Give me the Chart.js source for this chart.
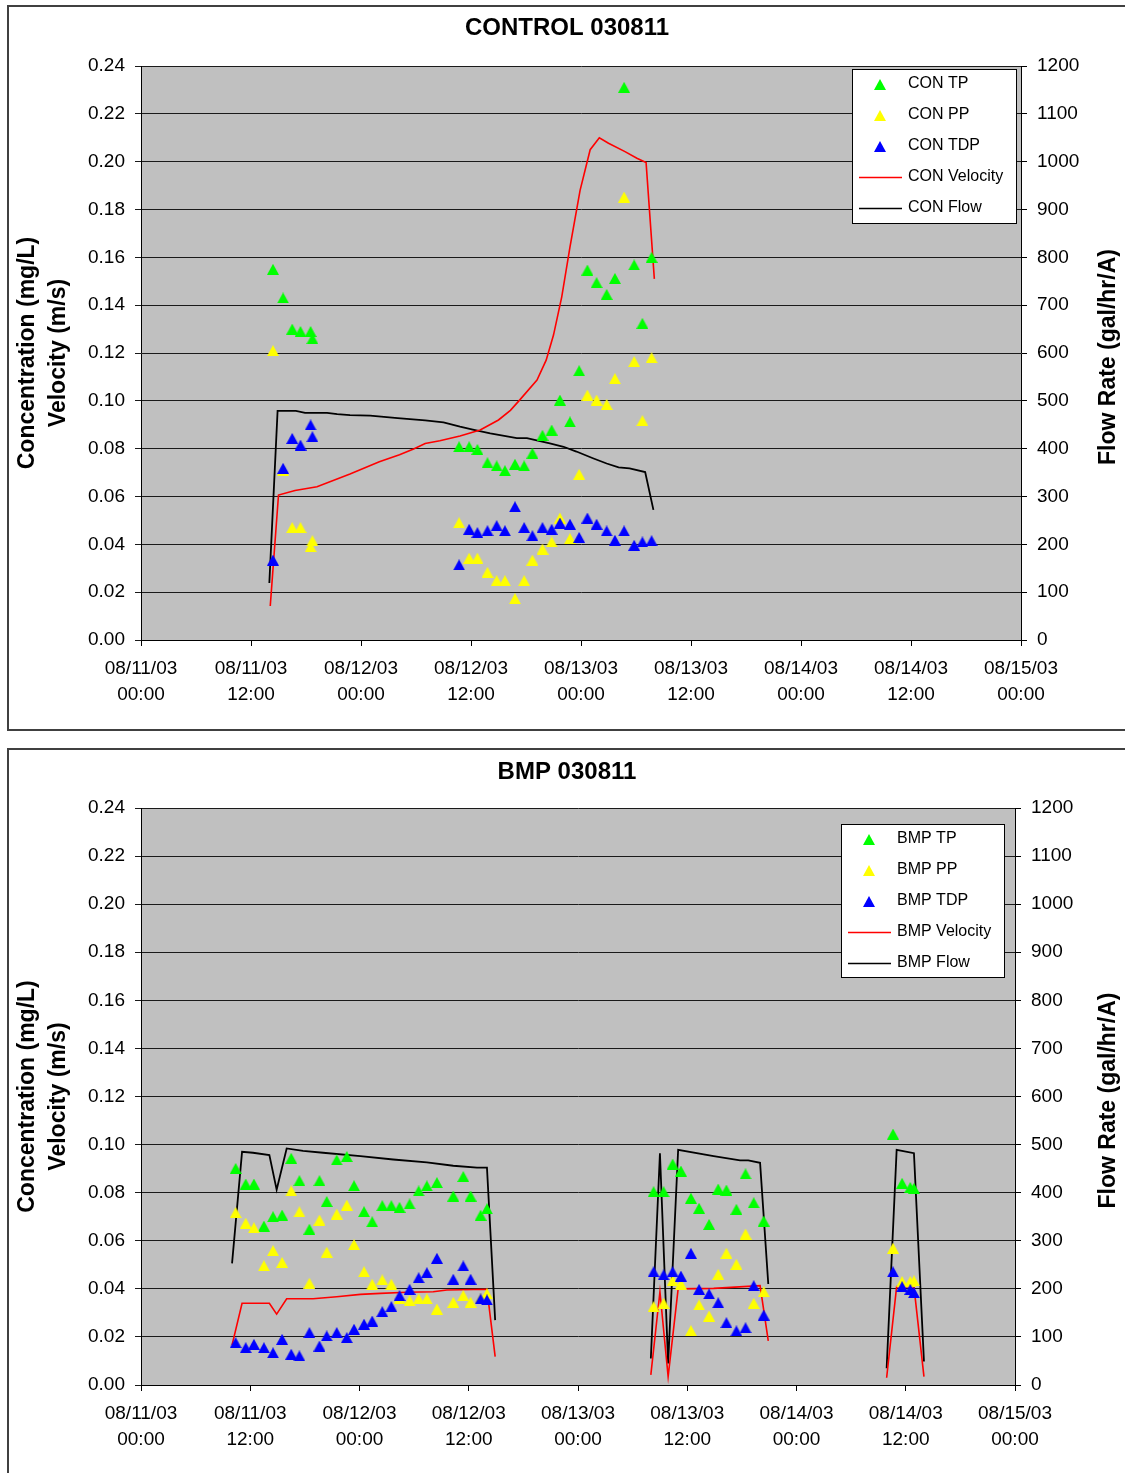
<!DOCTYPE html>
<html>
<head>
<meta charset="utf-8">
<script src="https://cdn.jsdelivr.net/npm/chart.js@4.4.1/dist/chart.umd.min.js"></script>
<style>
  html, body { margin: 0; padding: 0; background: #fff; overflow: hidden; }
  body { width: 1125px; height: 1473px; position: relative; }
  .quadro { position: absolute; left: 7px; width: 1140px; border: 2px solid #404040; box-sizing: border-box; }
  #quadroCon { top: 5px; height: 726px; }
  #quadroBmp { top: 748px; height: 740px; }
  canvas { position: absolute; }
  #chartCon { left: 8px; top: 6px; }
  #chartBmp { left: 8px; top: 749px; }
</style>
</head>
<body>
<div class="quadro" id="quadroCon"></div>
<div class="quadro" id="quadroBmp"></div>
<canvas id="chartCon" width="1117" height="724" style="width:1117px;height:724px"></canvas>
<canvas id="chartBmp" width="1117" height="724" style="width:1117px;height:724px"></canvas>
<script>
// hours since 08/11/03 00:00
const xTickLabels = [
    ['08/11/03', '00:00'], ['08/11/03', '12:00'], ['08/12/03', '00:00'], ['08/12/03', '12:00'],
    ['08/13/03', '00:00'], ['08/13/03', '12:00'], ['08/14/03', '00:00'], ['08/14/03', '12:00'],
    ['08/15/03', '00:00']
];

// ---- CONTROL 030811 ----
const conHours = [14.4, 15.5, 16.5, 17.4, 18.5, 18.7,
    34.7, 35.8, 36.7, 37.8, 38.8, 39.7, 40.8, 41.8, 42.7, 43.8, 44.8, 45.7, 46.8, 47.8,
    48.7, 49.7, 50.8, 51.7, 52.7, 53.8, 54.7, 55.7];
const conTP = [0.155, 0.143, 0.130, 0.129, 0.129, 0.126,
    0.0808, 0.0808, 0.0797, 0.0741, 0.0728, 0.0708, 0.0735, 0.0728, 0.0781, 0.0856, 0.0878, 0.1003, 0.0912, 0.1126,
    0.1547, 0.1494, 0.1445, 0.1512, 0.2311, 0.1568, 0.1324, 0.160];
const conPP = [0.121, 0.071, 0.047, 0.047, 0.039, 0.0415,
    0.049, 0.0342, 0.0342, 0.0283, 0.0248, 0.0248, 0.0173, 0.0248, 0.0334, 0.038, 0.041, 0.051, 0.0424, 0.0693,
    0.1024, 0.1003, 0.0985, 0.1093, 0.1852, 0.1164, 0.0917, 0.118];
const conTDP = [0.0334, 0.0718, 0.0843, 0.0815, 0.0899, 0.085,
    0.0314, 0.0463, 0.0449, 0.0457, 0.0478, 0.0457, 0.0557, 0.047, 0.0436, 0.047, 0.0463, 0.0489, 0.0484, 0.0429,
    0.051, 0.0484, 0.0456, 0.0417, 0.0456, 0.0396, 0.041, 0.0415];
const conVelHours = [14.1, 15.0, 16.8, 19.2, 22.8, 26.0, 28.2, 29.8, 31.0, 32.6, 34.8, 37.0, 39.0, 40.3,
    41.3, 43.2, 44.2, 45.0, 45.9, 46.8, 47.9, 49.0, 50.0, 51.0, 52.8, 54.1, 55.1, 56.0];
const conVelocity = [0.0142, 0.0606, 0.0625, 0.0641, 0.0694, 0.0745, 0.0775, 0.080, 0.0822, 0.0833, 0.0853, 0.0878, 0.092, 0.096,
    0.1003, 0.1087, 0.117, 0.1275, 0.1435, 0.1644, 0.188, 0.205, 0.210, 0.2077, 0.2042, 0.2014, 0.1996, 0.151];
const conFlowHours = [14.0, 14.9, 16.9, 17.9, 20.3, 21.4, 22.8, 25.0, 28.0, 31.0, 33.0, 34.8, 36.2, 38.1,
    41.0, 42.1, 44.6, 46.1, 47.5, 49.3, 50.8, 52.1, 53.3, 55.0, 55.9];
const conFlow = [119, 479, 479, 475, 475, 472, 470, 469, 464, 459, 455, 446, 440, 432,
    422, 422, 411, 404, 394, 380, 369, 361, 359, 351, 272];

// ---- BMP 030811 ----
const bmpHours = [10.4, 11.5, 12.4, 13.5, 14.5, 15.5, 16.5, 17.4, 18.5, 19.6, 20.4, 21.5, 22.6, 23.4,
    24.5, 25.4, 26.5, 27.5, 28.4, 29.5, 30.5, 31.4, 32.5, 34.3, 35.4, 36.2, 37.3, 38.0,
    56.3, 57.4, 58.4, 59.3, 60.4, 61.3, 62.4, 63.4, 64.3, 65.4, 66.4, 67.3, 68.4,
    82.6, 83.6, 84.5, 84.9];
const bmpTP = [0.0901, 0.0836, 0.0836, 0.0661, 0.070, 0.0707, 0.0943, 0.085, 0.0648, 0.085, 0.0763, 0.0936, 0.095, 0.0829,
    0.0721, 0.0679, 0.0746, 0.0746, 0.0739, 0.0753, 0.0807, 0.0828, 0.0842, 0.0786, 0.0867, 0.0786, 0.0706, 0.0733,
    0.0804, 0.0804, 0.0919, 0.089, 0.0777, 0.0735, 0.0668, 0.0815, 0.0811, 0.0731, 0.0878, 0.0758, 0.0682,
    0.1044, 0.0839, 0.0822, 0.0818];
const bmpPP = [0.0717, 0.0673, 0.0654, 0.0496, 0.0559, 0.051, 0.0807, 0.072, 0.0423, 0.0686, 0.0552, 0.0711, 0.0748, 0.0584,
    0.0471, 0.0419, 0.0437, 0.0419, 0.036, 0.0351, 0.0358, 0.0358, 0.0316, 0.0344, 0.0372, 0.0344, 0.036, 0.038,
    0.0326, 0.034, 0.0434, 0.042, 0.0226, 0.0333, 0.0287, 0.046, 0.0548, 0.0502, 0.0628, 0.034, 0.0388,
    0.0569, 0.043, 0.043, 0.0433];
const bmpTDP = [0.0176, 0.0155, 0.0169, 0.0155, 0.0134, 0.019, 0.0128, 0.0121, 0.0218, 0.0162, 0.0204, 0.0218, 0.0197, 0.0232,
    0.0253, 0.0266, 0.0305, 0.0326, 0.0372, 0.0398, 0.0446, 0.0467, 0.0527, 0.044, 0.0495, 0.044, 0.0358, 0.0354,
    0.0471, 0.0458, 0.0471, 0.0453, 0.0548, 0.0398, 0.0379, 0.0342, 0.0259, 0.0225, 0.0238, 0.0413, 0.0291,
    0.0471, 0.0409, 0.0398, 0.0384];
// null = no flow between storm events
const bmpVelHours = [10.0, 11.1, 14.1, 14.9, 16.0, 18.9, 21.5, 24.1, 26.3, 29.2, 32.1, 33.6, 38.0, 38.9,
    47.0, 56.0, 57.0, 57.9, 59.0, 62.9, 68.0, 68.9,
    75.0, 81.9, 83.0, 84.9, 86.0];
const bmpVelocity = [0.0166, 0.034, 0.034, 0.0295, 0.0359, 0.0359, 0.0367, 0.0377, 0.0381, 0.0386, 0.0388, 0.0395, 0.0398, 0.0118,
    null, 0.0042, 0.0388, 0.0035, 0.040, 0.0402, 0.0413, 0.0184,
    null, 0.003, 0.0409, 0.0409, 0.0035];
const bmpFlowHours = [10.0, 11.1, 12.3, 14.1, 14.9, 16.0, 17.8, 20.0, 24.1, 27.7, 31.4, 34.3, 36.9, 38.0, 38.9,
    47.0, 56.0, 57.0, 57.9, 59.0, 62.9, 65.8, 66.7, 68.0, 68.9,
    75.0, 81.9, 83.0, 84.9, 86.0];
const bmpFlow = [253, 485, 483, 478, 406, 492, 487, 483, 476, 469, 463, 456, 452, 452, 135,
    null, 55, 482, 45, 489, 476, 467, 467, 462, 210,
    null, 35, 489, 482, 49];

const fonte = '"Liberation Sans", Arial, sans-serif';

function juntar(horas, valores) {
    return horas.map((h, i) => ({ x: h, y: valores[i] }));
}

function triangulo(cor) {
    const c = document.createElement('canvas');
    c.width = 12;
    c.height = 11;
    const g = c.getContext('2d');
    g.fillStyle = cor;
    g.beginPath();
    g.moveTo(6, 0);
    g.lineTo(12, 11);
    g.lineTo(0, 11);
    g.closePath();
    g.fill();
    return c;
}

const fundoPlot = {
    id: 'fundoPlot',
    beforeDraw(chart) {
        const a = chart.chartArea;
        chart.ctx.save();
        chart.ctx.fillStyle = '#c0c0c0';
        chart.ctx.fillRect(a.left, a.top, a.right - a.left, a.bottom - a.top);
        chart.ctx.restore();
    }
};

// chart title + right axis title (reads bottom to top like the left one)
const tituloGrafico = {
    id: 'tituloGrafico',
    afterDraw(chart, args, opts) {
        const ctx = chart.ctx;
        const a = chart.chartArea;
        ctx.save();
        ctx.font = 'bold 24px ' + fonte;
        ctx.fillStyle = '#000';
        ctx.textAlign = 'center';
        ctx.textBaseline = 'middle';
        ctx.fillText(opts.text, opts.x, opts.y);
        ctx.font = 'bold 23px ' + fonte;
        ctx.translate(opts.rightX, (a.top + a.bottom) / 2 + 4);
        ctx.rotate(-Math.PI / 2);
        ctx.fillText(opts.rightText, 0, 0);
        ctx.restore();
    }
};

const legendaCaixa = {
    id: 'legendaCaixa',
    afterDatasetsDraw(chart, args, opts) {
        const ctx = chart.ctx;
        ctx.save();
        ctx.fillStyle = '#fff';
        ctx.fillRect(opts.x, opts.y, opts.w, opts.h);
        ctx.strokeStyle = '#000';
        ctx.lineWidth = 1;
        ctx.strokeRect(opts.x + 0.5, opts.y + 0.5, opts.w, opts.h);
        ctx.font = '16px ' + fonte;
        ctx.textBaseline = 'middle';
        chart.data.datasets.forEach((ds, i) => {
            const yy = opts.y + 15 + i * 31;
            if (ds.showLine) {
                ctx.strokeStyle = ds.borderColor;
                ctx.lineWidth = 1.5;
                ctx.beginPath();
                ctx.moveTo(opts.x + 7, yy + 0.5);
                ctx.lineTo(opts.x + 50, yy + 0.5);
                ctx.stroke();
            } else {
                ctx.drawImage(ds.pointStyle, opts.x + 28 - 6, yy - 5);
            }
            ctx.fillStyle = '#000';
            ctx.fillText(ds.label, opts.x + 56, yy);
        });
        ctx.restore();
    }
};

function montarGrafico(canvasId, cfg) {
    const ticksFont = { family: fonte, size: 19, lineHeight: 1.37 };
    const tituloFont = { family: fonte, size: 23, weight: 'bold', lineHeight: 1.35 };
    const datasets = [
        { label: cfg.prefix + ' TP', data: juntar(cfg.hours, cfg.tp), pointStyle: triangulo('#00ff00'), pointRadius: 6, order: 2, yAxisID: 'y' },
        { label: cfg.prefix + ' PP', data: juntar(cfg.hours, cfg.pp), pointStyle: triangulo('#ffff00'), pointRadius: 6, order: 1, yAxisID: 'y' },
        { label: cfg.prefix + ' TDP', data: juntar(cfg.hours, cfg.tdp), pointStyle: triangulo('#0000ff'), pointRadius: 6, order: 0, yAxisID: 'y' },
        { label: cfg.prefix + ' Velocity', data: juntar(cfg.velHours, cfg.velocity), showLine: true, borderColor: '#ff0000', borderWidth: 1.6, pointRadius: 0, order: 3, yAxisID: 'y' },
        { label: cfg.prefix + ' Flow', data: juntar(cfg.flowHours, cfg.flow), showLine: true, borderColor: '#000000', borderWidth: 1.8, pointRadius: 0, order: 4, yAxisID: 'y1' }
    ];

    return new Chart(document.getElementById(canvasId), {
        type: 'scatter',
        data: { datasets: datasets },
        plugins: [fundoPlot, tituloGrafico, legendaCaixa],
        options: {
            responsive: false,
            animation: false,
            events: [],
            layout: { padding: { top: cfg.area.top, left: 0, right: 0, bottom: 0 } },
            plugins: {
                legend: { display: false },
                tooltip: { enabled: false },
                tituloGrafico: cfg.titulo,
                legendaCaixa: cfg.legenda
            },
            scales: {
                x: {
                    type: 'linear', min: 0, max: 96,
                    afterFit: (s) => { s.height = 724 - cfg.area.bottom; },
                    ticks: {
                        stepSize: 12, autoSkip: false, maxRotation: 0, padding: 10, color: '#000', font: ticksFont,
                        callback: (v) => xTickLabels[Math.round(v / 12)]
                    },
                    grid: { drawOnChartArea: false, color: '#000', tickLength: 6 },
                    border: { color: '#000', width: 1 }
                },
                y: {
                    position: 'left', min: 0, max: 0.24,
                    afterFit: (s) => { s.width = cfg.area.left; },
                    ticks: { stepSize: 0.02, padding: 10, color: '#000', font: ticksFont, callback: (v) => v.toFixed(2) },
                    grid: { color: '#1a1a1a', tickLength: 6 },
                    border: { color: '#000', width: 1 },
                    title: { display: true, text: ['Concentration (mg/L)', 'Velocity (m/s)'], color: '#000', font: tituloFont, padding: { top: 4, bottom: 0 } }
                },
                y1: {
                    position: 'right', min: 0, max: 1200,
                    afterFit: (s) => { s.width = 1117 - cfg.area.right; },
                    ticks: { stepSize: 100, padding: 10, color: '#000', font: ticksFont, callback: (v) => String(v) },
                    grid: { drawOnChartArea: false, color: '#000', tickLength: 6 },
                    border: { color: '#000', width: 1 }
                }
            }
        }
    });
}

try {
    montarGrafico('chartCon', {
        prefix: 'CON',
        hours: conHours, tp: conTP, pp: conPP, tdp: conTDP,
        velHours: conVelHours, velocity: conVelocity,
        flowHours: conFlowHours, flow: conFlow,
        area: { left: 133, right: 1013, top: 60, bottom: 634 },
        titulo: { text: 'CONTROL 030811', x: 559, y: 22, rightText: 'Flow Rate (gal/hr/A)', rightX: 1101 },
        legenda: { x: 844, y: 63, w: 164, h: 154 }
    });

    montarGrafico('chartBmp', {
        prefix: 'BMP',
        hours: bmpHours, tp: bmpTP, pp: bmpPP, tdp: bmpTDP,
        velHours: bmpVelHours, velocity: bmpVelocity,
        flowHours: bmpFlowHours, flow: bmpFlow,
        area: { left: 133, right: 1007, top: 59, bottom: 636 },
        titulo: { text: 'BMP 030811', x: 559, y: 23, rightText: 'Flow Rate (gal/hr/A)', rightX: 1101 },
        legenda: { x: 833, y: 75, w: 163, h: 153 }
    });
} catch (e) {
    console.log(e);
}
</script>
</body>
</html>
